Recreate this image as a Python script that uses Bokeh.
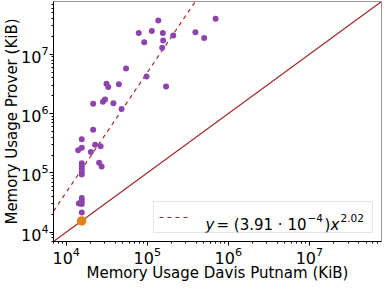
import numpy as np
from bokeh.plotting import figure
from bokeh.models import Range1d, Label, Legend, LegendItem
from bokeh.embed import file_html
from bokeh.resources import INLINE

# Memory usage (KiB): Davis Putnam (x) vs Prover (y)
dp_kib = [136800, 78500, 113800, 155600, 209400, 91800, 157000, 152800, 392600, 503500,
          696600, 54700, 97900, 170600, 31400, 33000, 44700, 21500, 28400, 30100,
          38200, 48200, 21500, 15560, 14060, 15560, 22750, 26600, 20140, 25470,
          27350, 15560, 15560, 15560, 15560, 15560, 15560, 15560, 15560, 14320,
          14930, 15560]
prover_kib = [3.72e7, 2.29e7, 2.47e7, 2.29e7, 2.08e7, 1.60e7, 1.70e7, 1.29e7, 2.35e7, 1.88e7,
              3.97e7, 5.73e6, 4.20e6, 2.86e6, 3.20e6, 2.82e6, 3.11e6, 1.47e6, 1.59e6, 1.73e6,
              1.49e6, 1.19e6, 5.36e5, 3.69e5, 2.42e5, 2.66e5, 2.98e5, 2.81e5, 2.26e5, 1.48e5,
              1.28e5, 1.45e5, 1.29e5, 1.15e5, 1.03e5, 9.4e4, 3.76e4, 3.36e4, 3.00e4, 3.05e4,
              3.11e4, 2.14e4]
baseline_dp_kib = [15500]
baseline_prover_kib = [15500]

fit_coef = 3.91e-4
fit_exp = 2.02
axis_min = 6970
axis_max = 7.76e7

FONT = "DejaVu Sans"
PURPLE = "#8e44ad"
ORANGE = "#e08214"
RED = "#9e2a2b"

p = figure(width=382, height=284, x_axis_type="log", y_axis_type="log",
           x_range=Range1d(axis_min, axis_max), y_range=Range1d(axis_min, axis_max),
           output_backend="svg", toolbar_location=None,
           min_border_left=0, min_border_right=1, min_border_top=1, min_border_bottom=0,
           x_axis_label="Memory Usage Davis Putnam (KiB)",
           y_axis_label="Memory Usage Prover (KiB)")
p.xgrid.visible = False
p.ygrid.visible = False
p.outline_line_color = "#999999"
p.background_fill_color = "white"
p.border_fill_color = "white"

for ax in (p.xaxis[0], p.yaxis[0]):
    ax.axis_label_text_font = FONT
    ax.axis_label_text_font_size = "15px"
    ax.axis_label_text_font_style = "normal"
    ax.axis_label_text_color = "black"
    ax.axis_label_text_line_height = 0.85
    ax.major_label_text_font = FONT
    ax.major_label_text_font_size = "16px"
    ax.major_label_text_color = "black"
    ax.major_tick_out = 4
    ax.major_tick_in = 0
    ax.minor_tick_out = 2
    ax.minor_tick_in = 0
    ax.axis_line_color = "black"
    ax.major_tick_line_color = "black"
    ax.minor_tick_line_color = "black"
    ax.major_label_standoff = 1
p.xaxis[0].axis_label_standoff = -3
p.yaxis[0].axis_label_standoff = -3

xs = np.array([axis_min, axis_max])
p.line(xs, xs, line_color=RED, line_width=1.2)
r_fit = p.line(xs, fit_coef * xs ** fit_exp, line_color=RED, line_width=1.2, line_dash="4 4")

p.scatter(dp_kib, prover_kib, size=6, fill_color=PURPLE, line_color=None)
p.scatter(baseline_dp_kib, baseline_prover_kib, size=9.5, fill_color=ORANGE, line_color=None)

legend = Legend(items=[LegendItem(label=" ", renderers=[r_fit])], location="bottom_right",
                padding=5, margin=8, glyph_width=32, glyph_height=20,
                label_standoff=0, label_width=176, label_height=20,
                border_line_color="#cccccc", border_line_width=1,
                background_fill_color="white", background_fill_alpha=0.0)
p.add_layout(legend)

# legend text pieces, anchored at frame's bottom-right corner
pieces = [
    ("y", -176, 17, "15px", "italic"),
    ("= (3.91 \u00b7 10", -165, 17, "15px", "normal"),
    ("\u22124", -74, 24, "10.5px", "normal"),
    (")", -57, 17, "15px", "normal"),
    ("x", -51, 17, "15px", "italic"),
    ("2.02", -41, 24, "10.5px", "normal"),
]
for txt, dx, dy, fs, st in pieces:
    p.add_layout(Label(x=axis_max, y=axis_min, x_offset=dx, y_offset=dy, text=txt,
                       text_font=FONT, text_font_size=fs, text_font_style=st,
                       text_color="black", text_baseline="alphabetic", text_align="left",
                       level="overlay"))

open("out.html", "w").write(file_html(p, INLINE))
